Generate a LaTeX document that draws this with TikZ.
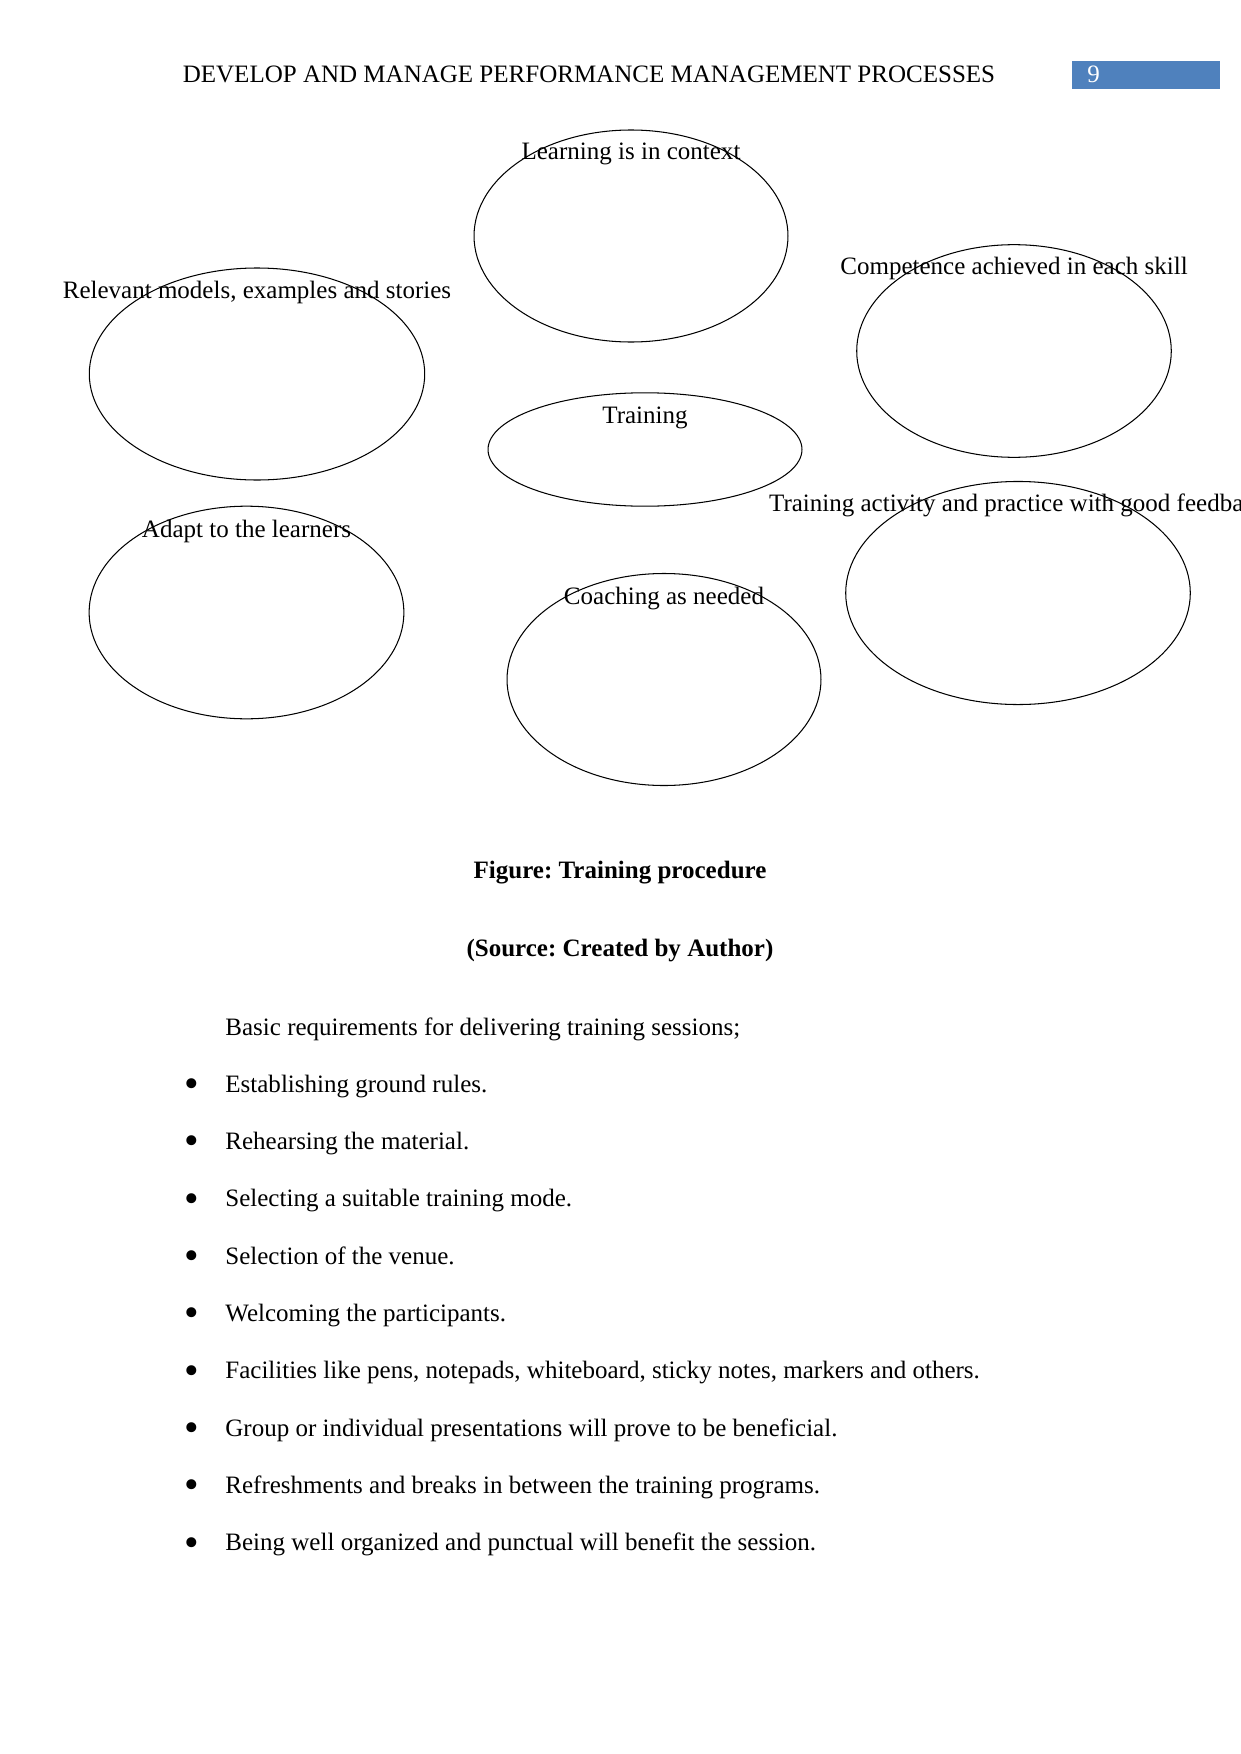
\documentclass[tikz,border=0pt]{standalone}
\usepackage{fontspec}
\setmainfont{Liberation Serif}
\usetikzlibrary{shapes.geometric}
\definecolor{hdrblue}{RGB}{79,129,189}
\frenchspacing
\tikzset{
  oval/.style={draw=black, line width=0.5pt, ellipse, inner sep=0pt, outer sep=0pt},
  lbl/.style={anchor=base, inner sep=0pt, font=\fontsize{12pt}{14pt}\selectfont},
  body/.style={anchor=base west, inner sep=0pt, font=\fontsize{12pt}{14pt}\selectfont},
  bul/.style={anchor=base, inner sep=0pt, font=\fontsize{20pt}{22pt}\selectfont},
  capt/.style={anchor=base, inner sep=0pt, font=\fontsize{12pt}{14pt}\selectfont\bfseries}
}
\begin{document}
\begin{tikzpicture}[x=0.4797pt,y=-0.4797pt]
\useasboundingbox[fill=white] (0,0) rectangle (1241,1754);
% header
\node[lbl] (hdr) at (589,83) {DEVELOP AND MANAGE PERFORMANCE MANAGEMENT PROCESSES};
\node[fill=hdrblue, inner sep=0pt, outer sep=0pt, minimum width=71.0pt, minimum height=13.6pt, anchor=north west] (pgbox) at (1072,61) {};
\node[anchor=base west, inner sep=0pt, text=white, font=\fontsize{12pt}{14pt}\selectfont] (pgno) at (1087,83) {9};
% ellipses
\node[oval, minimum width=150.6pt, minimum height=101.7pt] (learn) at (631,236) {};
\node[oval, minimum width=160.9pt, minimum height=101.7pt] (relev) at (257,374) {};
\node[oval, minimum width=150.9pt, minimum height=102.0pt] (comp) at (1014,351) {};
\node[oval, minimum width=150.6pt, minimum height=54.4pt] (train) at (645,449.5) {};
\node[oval, minimum width=151.0pt, minimum height=102.0pt] (adapt) at (246.5,612.5) {};
\node[oval, minimum width=150.6pt, minimum height=101.7pt] (coach) at (664,679.5) {};
\node[oval, minimum width=165.3pt, minimum height=107.0pt] (activ) at (1018,593) {};
% labels
\node[lbl] (tlearn) at (631,160) {Learning is in context};
\node[lbl] (trelev) at (257,298.5) {Relevant models, examples and stories};
\node[lbl] (tcomp) at (1014,274.5) {Competence achieved in each skill};
\node[lbl] (ttrain) at (645,423) {Training};
\node[lbl] (tadapt) at (246.5,537) {Adapt to the learners};
\node[lbl] (tcoach) at (664,604) {Coaching as needed};
\node[lbl] (tactiv) at (1018,511.5) {Training activity and practice with good feedback};
% captions
\node[capt] (fig) at (620,878) {Figure: Training procedure};
\node[capt] (src) at (620,956.5) {(Source: Created by Author)};
% body
\node[body] (intro) at (225,1035) {Basic requirements for delivering training sessions;};
\foreach \t [count=\i] in {
  {Establishing ground rules.},
  {Rehearsing the material.},
  {Selecting a suitable training mode.},
  {Selection of the venue.},
  {Welcoming the participants.},
  {Facilities like pens, notepads, whiteboard, sticky notes, markers and others.},
  {Group or individual presentations will prove to be beneficial.},
  {Refreshments and breaks in between the training programs.},
  {Being well organized and punctual will benefit the session.}}{
  \node[bul] (b\i) at (191.5,1040.3+57.3*\i) {\textbullet};
  \node[body] (item\i) at (225,1035+57.3*\i) {\t};
}
\end{tikzpicture}
\end{document}
